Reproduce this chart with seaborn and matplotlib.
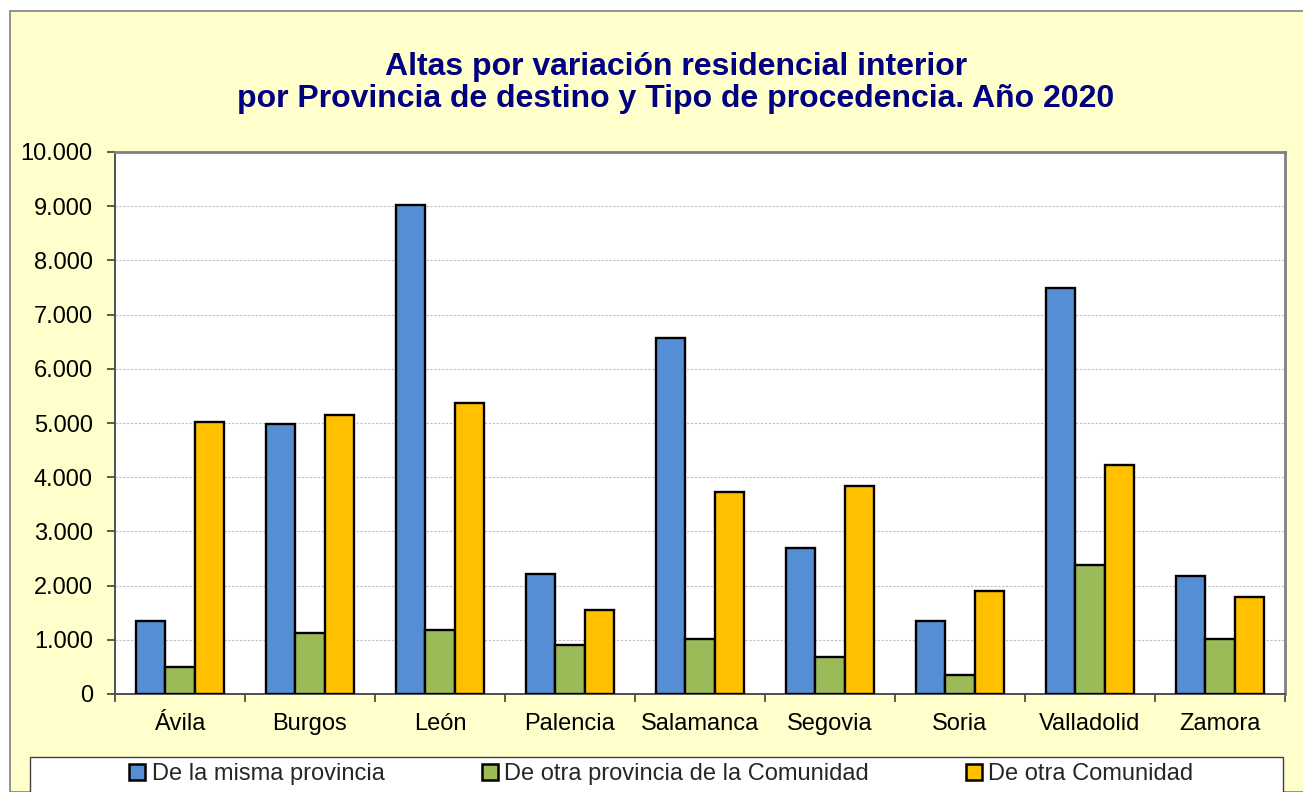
import matplotlib
matplotlib.use("Agg")
import matplotlib.pyplot as plt
import matplotlib.ticker as mticker
from matplotlib.patches import Rectangle
import seaborn as sns
import pandas as pd
import numpy as np

provincias = ["Ávila", "Burgos", "León", "Palencia", "Salamanca",
              "Segovia", "Soria", "Valladolid", "Zamora"]
series = ["De la misma provincia", "De otra provincia de la Comunidad", "De otra Comunidad"]
misma_provincia = [1350, 4980, 9020, 2210, 6570, 2690, 1350, 7490, 2180]
otra_provincia = [490, 1130, 1180, 910, 1010, 680, 350, 2380, 1010]
otra_comunidad = [5020, 5150, 5370, 1550, 3730, 3840, 1900, 4220, 1790]
colores = ["#558ED5", "#9BBB59", "#FFC000"]
y_ticks = [0, 1000, 2000, 3000, 4000, 5000, 6000, 7000, 8000, 9000, 10000]

df = pd.DataFrame({
    "Provincia": provincias * 3,
    "Tipo": [series[0]] * 9 + [series[1]] * 9 + [series[2]] * 9,
    "Altas": misma_provincia + otra_provincia + otra_comunidad,
})

sns.set_theme(style="white")
plt.rcParams['font.family'] = ['Liberation Sans', 'DejaVu Sans']

W, H = 1303, 792
fig = plt.figure(figsize=(W / 100, H / 100), dpi=100)
fig.patch.set_facecolor("white")

# outer chart frame
fig.patches.append(Rectangle((10 / W, 0), 1.2, 1 - 11 / H, transform=fig.transFigure,
                             facecolor="#FFFFCC", edgecolor="#808080", linewidth=1.2, zorder=-2))

ax = fig.add_axes([115 / W, 1 - 694 / H, (1285 - 115) / W, (694 - 152) / H])
ax.set_facecolor("white")
ax.set_zorder(1)

sns.barplot(data=df, x="Provincia", y="Altas", hue="Tipo", order=provincias,
            hue_order=series, palette=colores, width=0.67, gap=0,
            edgecolor="black", linewidth=1.7, saturation=1, ax=ax, legend=False, zorder=3)

ax.set_ylim(0, 10000)
ax.set_xlim(-0.5, len(provincias) - 0.5)
ax.set_yticks(y_ticks)
ax.yaxis.set_major_formatter(mticker.FuncFormatter(lambda v, p: f"{int(v):,}".replace(",", ".")))
ax.set_xlabel("")
ax.set_ylabel("")
ax.grid(axis="y", color="#BFBFBF", linestyle=(0, (2, 1.5)), linewidth=0.8, zorder=0)
ax.set_axisbelow(True)

ax.tick_params(axis="y", which="major", direction="out", length=6, width=1.2,
               color="#404040", left=True, labelsize=17, pad=10, labelcolor="black")
ax.tick_params(axis="x", which="major", length=0, labelsize=17, pad=14, labelcolor="black")
ax.set_xticks(np.arange(-0.5, len(provincias)), minor=True)
ax.tick_params(axis="x", which="minor", direction="out", length=6, width=1.2,
               color="#404040", bottom=True)

for side in ["top", "right"]:
    ax.spines[side].set_color("#808080")
    ax.spines[side].set_linewidth(2)
for side in ["left", "bottom"]:
    ax.spines[side].set_color("#505050")
    ax.spines[side].set_linewidth(1.4)

fig.text(676 / W, 1 - 83 / H,
         "Altas por variación residencial interior\npor Provincia de destino y Tipo de procedencia. Año 2020",
         ha="center", va="center", fontsize=23, fontweight="bold", color="#000080",
         linespacing=1.1)

# legend box
fig.patches.append(Rectangle((30 / W, -0.1), (1283 - 30) / W, 0.1 + 1 - 757 / H,
                             transform=fig.transFigure, facecolor="white",
                             edgecolor="#404040", linewidth=1.0, zorder=-1))
handles = [plt.Line2D([], [], marker="s", linestyle="", markersize=11,
                      markerfacecolor=c, markeredgecolor="black", markeredgewidth=1.8)
           for c in colores]
leg = fig.legend(handles, series, loc="center", bbox_to_anchor=(661 / W, 1 - 774 / H),
                 ncol=3, frameon=False, fontsize=17, handlelength=0.7, handletextpad=0.25,
                 columnspacing=4.1, borderpad=0)
leg.set_zorder(2)

fig.savefig("out.png", dpi=100, facecolor=fig.get_facecolor())
